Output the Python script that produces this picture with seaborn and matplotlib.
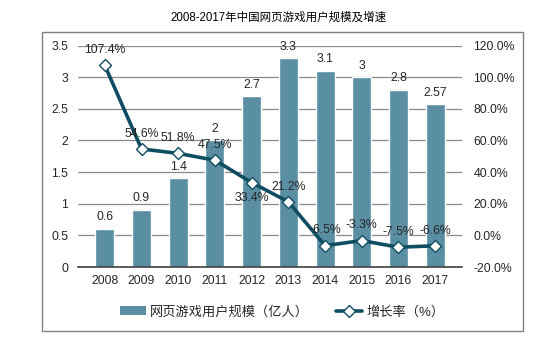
import matplotlib
matplotlib.use("Agg")
import matplotlib.pyplot as plt
import seaborn as sns
import numpy as np
import pandas as pd
from matplotlib.patches import Rectangle
from matplotlib.lines import Line2D

years = ["2008", "2009", "2010", "2011", "2012", "2013", "2014", "2015", "2016", "2017"]
users = [0.6, 0.9, 1.4, 2.0, 2.7, 3.3, 3.1, 3.0, 2.8, 2.57]
user_labels = ["0.6", "0.9", "1.4", "2", "2.7", "3.3", "3.1", "3", "2.8", "2.57"]
growth = [107.4, 54.6, 51.8, 47.5, 33.4, 21.2, -6.5, -3.3, -7.5, -6.6]
growth_labels = ["107.4%", "54.6%", "51.8%", "47.5%", "33.4%", "21.2%", "-6.5%", "-3.3%", "-7.5%", "-6.6%"]
label_side = [1, 1, 1, 1, -1, 1, 1, 1, 1, 1]

title = "2008-2017年中国网页游戏用户规模及增速"
bar_name = "网页游戏用户规模（亿人）"
line_name = "增长率（%）"

sns.set_theme(style="white")
plt.rcParams["font.family"] = ["Liberation Sans", "Noto Sans CJK SC", "DejaVu Sans"]

bar_color = "#5A8EA3"
line_color = "#0F4E62"
grid_color = "#8A8A8A"
text_color = "#262626"

W, H = 557, 345
fig = plt.figure(figsize=(W / 100, H / 100), dpi=100)
ax = fig.add_axes([77.8 / W, 1 - 267 / H, (462.2 - 77.8) / W, (267 - 45.5) / H])

df = pd.DataFrame({"year": years, "users": users, "growth": growth})
sns.barplot(data=df, x="year", y="users", color=bar_color, width=0.52,
            saturation=1, ax=ax, zorder=2)
ax.set_ylim(0, 3.5)
ax.set_yticks(np.arange(0, 3.51, 0.5))
ax.set_yticklabels(["0", "0.5", "1", "1.5", "2", "2.5", "3", "3.5"])
ax.set_xlabel("")
ax.set_ylabel("")
for s in ["left", "right", "top"]:
    ax.spines[s].set_visible(False)
ax.spines["bottom"].set_color("#404040")
ax.spines["bottom"].set_linewidth(1.2)
ax.grid(axis="y", color=grid_color, linewidth=0.9, zorder=0)
ax.set_axisbelow(True)
ax.tick_params(axis="both", length=0, labelsize=8.8, colors=text_color)
ax.tick_params(axis="y", pad=7)
ax.tick_params(axis="x", pad=6)
ax.bar_label(ax.containers[0], labels=user_labels, padding=4, fontsize=8.8, color=text_color)

ax2 = ax.twinx()
xpos = np.arange(len(years))
sns.lineplot(x=xpos, y=growth, ax=ax2, color=line_color, linewidth=2.6,
             marker="D", markersize=6.5, markerfacecolor="white",
             markeredgecolor=line_color, markeredgewidth=1.0, zorder=5)
ax2.set_ylim(-20, 120)
ax2.set_yticks(np.arange(-20, 121, 20))
ax2.set_yticklabels([f"{v:.1f}%" for v in np.arange(-20, 121, 20)])
for s in ["left", "right", "top", "bottom"]:
    ax2.spines[s].set_visible(False)
ax2.tick_params(axis="y", length=0, labelsize=8.8, colors=text_color, pad=8)
ax2.grid(False)
for x, y, lab, side in zip(xpos, growth, growth_labels, label_side):
    ax2.annotate(lab, (x, y), xytext=(0, 11 * side), textcoords="offset points",
                 ha="center", va="center", fontsize=8.8, color=text_color, zorder=6)

fig.text(0.5, 1 - 18 / H, title, ha="center", va="center", fontsize=8.3,
         color="black", family=["Liberation Sans", "Noto Sans CJK SC"])

fig.add_artist(Rectangle((42 / W, 1 - 331 / H), (523 - 42) / W, (331 - 32) / H,
                         transform=fig.transFigure, fill=False,
                         edgecolor="#808080", linewidth=1.0))

handles = [Rectangle((0, 0), 1, 1, facecolor=bar_color, edgecolor="none"),
           Line2D([0], [0], color=line_color, linewidth=2.6, marker="D", markersize=6,
                  markerfacecolor="white", markeredgecolor=line_color)]
fig.legend(handles, [bar_name, line_name], loc="center", bbox_to_anchor=(282 / W, 1 - 312 / H),
           ncol=2, frameon=False, fontsize=9.5, handlelength=2.0, handleheight=0.7,
           handletextpad=0.3, columnspacing=2.0, labelcolor=text_color)

fig.savefig("out.png", dpi=100)
